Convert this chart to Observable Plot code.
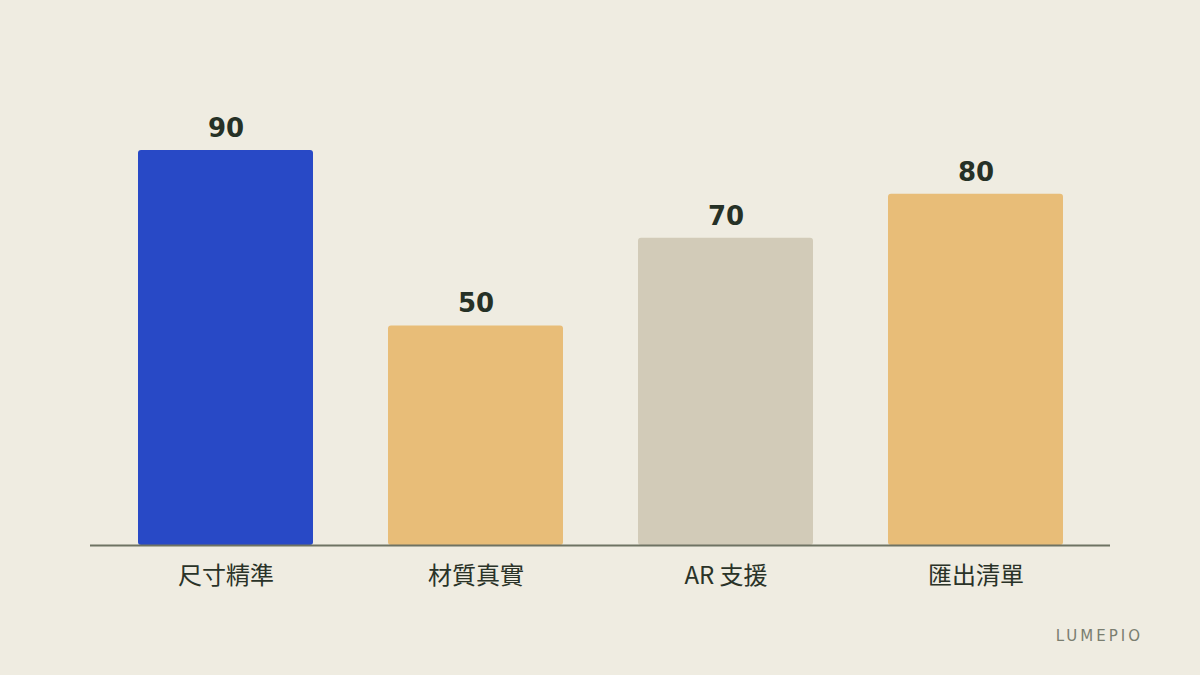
<!DOCTYPE html>
<html>
<head>
<meta charset="utf-8">
<script src="https://cdn.jsdelivr.net/npm/d3@7"></script>
<script src="https://cdn.jsdelivr.net/npm/@observablehq/plot@0.6"></script>
<style>
  html, body { margin: 0; padding: 0; background: #EFECE1; }
  #wrap { position: relative; width: 1200px; height: 675px; overflow: hidden; }
  #mark { position: absolute; right: 57px; top: 627px; font-family: "DejaVu Sans", sans-serif; font-size: 15px; letter-spacing: 3px; color: #7A7E70; }
</style>
</head>
<body>
<div id="wrap">
  <div id="chart"></div>
  <div id="mark">LUMEPIO</div>
</div>
<script>
const categories = ["尺寸精準", "材質真實", "AR 支援", "匯出清單"];
const values = [90, 50, 70, 80];
const colors = ["#2849C6", "#E8BD78", "#D2CBB8", "#E8BD78"];

const data = categories.map((c, i) => ({category: c, value: values[i], color: colors[i]}));

const chart = Plot.plot({
  width: 1200,
  height: 675,
  marginLeft: 100,
  marginRight: 100,
  marginTop: 106,
  marginBottom: 130,
  style: {background: "#EFECE1", fontFamily: "'Noto Sans CJK TC', sans-serif"},
  x: {domain: categories, paddingInner: 0.3, paddingOuter: 0.15, label: null, axis: null},
  y: {domain: [0, 100], axis: null},
  marks: [
    Plot.barY(data, {x: "category", y: "value", fill: "color", rx: 3}),
    Plot.ruleY([0], {stroke: "#6E7363", strokeWidth: 2, insetLeft: -10, insetRight: -10}),
    Plot.text(data, {x: "category", y: "value", text: d => String(d.value), dy: -22, fontSize: 26, fontWeight: "bold", fill: "#263126", fontFamily: "'DejaVu Sans', sans-serif"}),
    Plot.axisX({tickSize: 0, tickPadding: 21, fontSize: 24, fill: "#2A3328", label: null})
  ]
});
document.getElementById("chart").appendChild(chart);
</script>
</body>
</html>
